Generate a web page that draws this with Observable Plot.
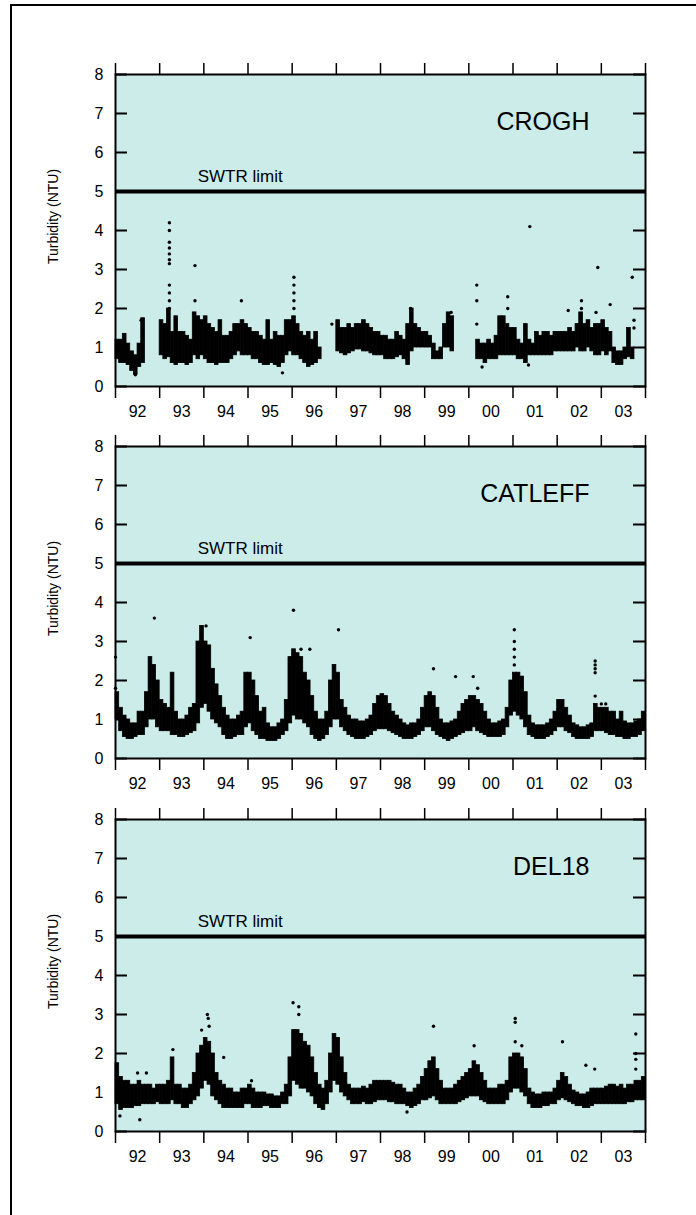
<!DOCTYPE html>
<html><head><meta charset="utf-8">
<script src="https://cdn.jsdelivr.net/npm/d3@7"></script>
<script src="https://cdn.jsdelivr.net/npm/@observablehq/plot@0.6"></script>
<style>
body{margin:0;background:#fff;}
#page{position:relative;width:696px;height:1215px;overflow:hidden;background:#fff;font-family:"Liberation Sans",Arial,sans-serif;}
#border{position:absolute;left:10px;top:4px;width:700px;height:1230px;border-left:2px solid #000;border-top:2px solid #000;}
.panel{position:absolute;left:0;}
</style></head><body><div id="page"><div id="border"></div></div>
<script>
// ---------- data ----------
const stations = ["CROGH", "CATLEFF", "DEL18"];
const yearLabels = ["92","93","94","95","96","97","98","99","00","01","02","03"];
const startYear = 1992;
const yTicks = [0,1,2,3,4,5,6,7,8];
const swtrLimit = 5;
const swtrLabel = "SWTR limit";
const yTitle = "Turbidity (NTU)";

// monthly lower / upper envelope of the daily readings, Jan 1992 .. Dec 2003 (null = no data)
const croghLow = [
 0.7,0.6,0.6,0.55,0.4,0.3,0.5,0.6,null,null,null,null,
 0.8,0.7,0.75,0.6,0.55,0.6,0.6,0.55,0.6,0.8,0.7,0.8,
 0.7,0.6,0.6,0.55,0.6,0.6,0.6,0.7,0.8,0.9,0.8,0.8,
 0.8,0.7,0.7,0.6,0.55,0.55,0.6,0.55,0.5,0.6,0.8,0.9,
 0.8,0.8,0.7,0.6,0.5,0.55,0.6,0.7,null,null,null,null,
 0.9,0.85,0.8,0.85,0.9,0.95,0.95,0.9,0.9,0.85,0.8,0.8,
 0.8,0.7,0.7,0.7,0.75,0.8,0.7,0.55,0.9,1.0,1.0,1.0,
 1.0,1.0,0.7,0.7,0.7,1.0,1.0,0.9,null,null,null,null,
 null,null,0.7,0.7,0.6,0.7,0.7,0.7,0.8,0.8,0.8,0.8,
 0.8,0.7,0.7,0.6,0.8,0.8,0.8,0.8,0.8,0.8,0.8,0.9,
 0.9,0.9,0.9,0.9,0.9,1.0,0.9,0.9,1.0,0.9,0.8,0.8,
 0.9,0.8,0.9,0.6,0.55,0.55,0.7,0.75,0.7,null,null,null
];
const croghHigh = [
 1.2,1.2,1.35,1.1,0.9,0.8,1.1,1.75,null,null,null,null,
 1.7,1.6,2.0,1.4,1.8,1.4,1.4,1.3,1.2,1.9,1.8,1.7,
 1.8,1.6,1.5,1.4,1.7,1.3,1.3,1.4,1.6,1.6,1.7,1.6,
 1.5,1.4,1.4,1.3,1.2,1.7,1.2,1.4,1.3,1.3,1.7,1.7,
 1.8,1.6,1.4,1.3,1.4,1.2,1.4,1.0,null,null,null,null,
 1.7,1.5,1.5,1.6,1.5,1.6,1.6,1.7,1.6,1.5,1.4,1.4,
 1.3,1.3,1.2,1.2,1.4,1.3,1.2,1.6,2.0,1.6,1.5,1.4,
 1.4,1.3,1.1,0.9,1.0,1.6,1.9,1.8,null,null,null,null,
 null,null,1.2,1.1,1.1,1.2,1.1,1.3,1.8,1.8,1.6,1.5,
 1.5,1.2,1.1,1.6,1.2,1.1,1.4,1.3,1.4,1.4,1.3,1.4,
 1.4,1.4,1.4,1.5,1.4,1.6,1.9,1.6,1.7,1.5,1.6,1.6,
 1.7,1.5,1.4,1.0,0.9,0.9,1.0,1.5,1.0,null,null,null
];
const croghSpikeYear = [1993.22,1993.22,1993.22,1993.22,1993.22,1993.22,1993.22,1993.22,1993.22,1993.22,1993.22,
 1993.8,1993.8,1994.85,1996.04,1996.04,1996.04,1996.04,1996.04,1996.9,2000.18,2000.18,2000.18,2000.88,2000.88,
 2001.38,2002.55,2002.55,2002.92,2002.88,2003.2,2003.7,2003.74,2003.74,1992.58,1998.68,1999.6,1995.78,1992.45,
 2001.35,2000.3,2002.25];
const croghSpikeValue = [2.0,2.2,2.4,2.6,3.15,3.25,3.4,3.55,3.7,4.0,4.2,
 3.1,2.2,2.2,2.0,2.2,2.4,2.6,2.8,1.6,2.6,2.2,1.6,2.3,2.0,
 4.1,2.2,2.0,3.05,1.9,2.1,2.8,1.7,1.5,1.7,2.0,1.9,0.35,0.3,
 0.55,0.5,1.95];

const catleffLow = [
 1.0,0.7,0.55,0.5,0.5,0.55,0.6,0.6,0.8,1.0,1.0,0.8,
 0.7,0.7,0.7,0.6,0.6,0.55,0.55,0.6,0.65,0.7,0.9,1.3,
 1.4,1.2,1.0,0.9,0.8,0.6,0.5,0.5,0.55,0.6,0.6,0.8,
 0.9,0.7,0.6,0.5,0.5,0.45,0.45,0.45,0.5,0.6,0.7,0.9,
 1.1,1.0,1.0,0.9,0.8,0.6,0.5,0.45,0.5,0.6,0.8,1.0,
 1.0,0.8,0.7,0.6,0.55,0.5,0.5,0.5,0.55,0.6,0.7,0.75,
 0.75,0.75,0.7,0.65,0.6,0.55,0.5,0.5,0.5,0.55,0.6,0.7,
 0.8,0.8,0.7,0.6,0.55,0.5,0.45,0.5,0.55,0.6,0.65,0.7,
 0.7,0.8,0.7,0.65,0.6,0.55,0.55,0.55,0.55,0.6,0.8,1.1,
 1.2,1.1,1.0,0.8,0.6,0.55,0.5,0.5,0.5,0.55,0.6,0.7,
 0.8,0.8,0.7,0.65,0.55,0.5,0.5,0.5,0.5,0.55,0.7,0.7,
 0.7,0.65,0.6,0.6,0.55,0.55,0.5,0.5,0.55,0.55,0.6,0.7
];
const catleffHigh = [
 1.7,1.3,1.1,1.0,0.9,0.9,1.2,1.2,1.7,2.6,2.4,2.0,
 1.5,1.4,1.3,2.2,1.2,1.0,1.0,1.1,1.3,1.4,3.0,3.4,
 3.0,2.9,2.3,1.9,1.6,1.3,1.1,1.0,1.0,1.1,1.2,2.2,
 2.2,2.0,1.6,1.2,1.3,0.9,0.8,0.8,0.9,1.0,1.5,2.6,
 2.8,2.7,2.6,2.2,2.0,1.6,1.2,1.0,1.0,1.2,2.0,2.4,
 2.2,1.5,1.3,1.1,1.0,1.0,0.95,0.95,1.0,1.1,1.4,1.6,
 1.65,1.6,1.4,1.2,1.1,1.0,0.9,0.85,0.9,0.9,1.0,1.3,
 1.6,1.7,1.6,1.3,1.0,0.9,0.9,0.95,1.0,1.2,1.4,1.5,
 1.6,1.6,1.5,1.4,1.2,1.0,0.9,0.9,0.95,1.0,1.3,2.0,
 2.2,2.2,2.1,1.7,1.1,0.9,0.85,0.85,0.85,0.9,1.0,1.2,
 1.5,1.5,1.3,1.1,0.9,0.85,0.8,0.8,0.85,0.9,1.4,1.3,
 1.3,1.3,1.2,1.2,1.0,1.2,0.95,0.9,0.9,0.95,1.0,1.2
];
const catleffSpikeYear = [1992.0,1992.0,1992.88,1994.05,1995.05,1996.03,1996.2,1996.4,1997.05,1999.2,1999.7,2000.1,2000.2,
 2001.03,2001.03,2001.03,2001.03,2001.03,2002.86,2002.86,2002.86,2002.86,2002.86,2003.0,2003.1];
const catleffSpikeValue = [2.6,1.8,3.6,3.4,3.1,3.8,2.8,2.8,3.3,2.3,2.1,2.1,1.8,
 3.3,3.0,2.8,2.6,2.4,2.5,2.4,2.3,2.2,1.6,1.4,1.4];

const del18Low = [
 0.7,0.55,0.6,0.6,0.6,0.65,0.65,0.7,0.7,0.7,0.7,0.75,
 0.7,0.7,0.7,0.8,0.7,0.7,0.6,0.6,0.7,0.8,0.9,1.1,
 1.3,1.2,0.9,0.8,0.7,0.6,0.6,0.6,0.6,0.6,0.6,0.7,
 0.7,0.6,0.6,0.6,0.65,0.65,0.6,0.6,0.6,0.7,0.7,0.9,
 1.3,1.2,1.1,1.1,1.0,0.9,0.7,0.6,0.55,0.7,1.0,1.3,
 1.2,1.0,0.9,0.8,0.7,0.7,0.7,0.75,0.7,0.7,0.75,0.8,
 0.8,0.8,0.75,0.75,0.7,0.7,0.7,0.65,0.6,0.65,0.7,0.8,
 0.8,0.85,0.9,0.8,0.7,0.7,0.7,0.7,0.7,0.75,0.8,0.85,
 0.9,0.9,0.9,0.8,0.75,0.7,0.7,0.7,0.7,0.7,0.8,1.0,
 1.1,1.1,1.0,0.9,0.7,0.6,0.6,0.6,0.65,0.65,0.7,0.7,
 0.8,0.85,0.8,0.75,0.7,0.65,0.65,0.6,0.6,0.65,0.7,0.7,
 0.7,0.7,0.7,0.7,0.7,0.7,0.7,0.75,0.75,0.8,0.8,0.8
];
const del18High = [
 1.75,1.4,1.3,1.3,1.2,1.2,1.3,1.2,1.2,1.2,1.1,1.2,
 1.2,1.2,1.3,1.9,1.2,1.2,1.1,1.1,1.2,1.5,2.0,2.2,
 2.4,2.3,2.0,1.5,1.3,1.2,1.1,1.1,1.0,1.0,1.1,1.1,
 1.2,1.1,1.0,1.0,1.0,0.95,0.95,0.9,0.9,1.0,1.2,1.9,
 2.6,2.6,2.5,2.3,2.2,1.9,1.5,1.2,1.1,1.3,2.0,2.5,
 2.4,1.9,1.5,1.2,1.1,1.1,1.1,1.15,1.1,1.2,1.3,1.3,
 1.3,1.3,1.3,1.25,1.2,1.2,1.1,1.0,1.0,1.1,1.2,1.4,
 1.6,1.8,1.9,1.6,1.3,1.1,1.1,1.1,1.2,1.3,1.4,1.5,
 1.6,1.8,1.7,1.5,1.3,1.1,1.1,1.1,1.2,1.2,1.3,1.9,
 2.0,2.0,1.9,1.6,1.1,1.0,0.95,0.95,1.0,1.0,1.0,1.1,
 1.3,1.5,1.4,1.2,1.05,1.0,0.95,0.95,1.0,1.1,1.1,1.1,
 1.1,1.15,1.2,1.2,1.15,1.2,1.1,1.2,1.2,1.3,1.3,1.4
];
const del18SpikeYear = [1992.1,1992.55,1992.5,1992.7,1993.3,1993.95,1994.08,1994.1,1994.12,1994.45,1995.08,1996.02,1996.15,1996.15,
 1999.2,2000.12,2001.05,2001.05,2001.05,2001.2,2002.12,2002.65,2002.85,2003.78,2003.78,2003.78,2003.78,1998.6];
const del18SpikeValue = [0.4,0.3,1.5,1.5,2.1,2.6,3.0,2.9,2.7,1.9,1.3,3.3,3.2,3.0,
 2.7,2.2,2.9,2.8,2.3,2.2,2.3,1.7,1.6,2.5,2.0,1.85,1.6,0.5];

// ---------- drawing ----------
const lows = [croghLow, catleffLow, del18Low];
const highs = [croghHigh, catleffHigh, del18High];
const spikeYears = [croghSpikeYear, catleffSpikeYear, del18SpikeYear];
const spikeValues = [croghSpikeValue, catleffSpikeValue, del18SpikeValue];

const frameTops = [74, 445.5, 819];
const W = 696, ML = 115, MR = 51, MT = 30, MB = 50, FH = 312;
const FW = W - ML - MR;
const TICK = 12;
const font = "'Liberation Sans', Arial, sans-serif";
const yearTicks = d3.range(startYear, startYear + yearLabels.length + 1);

stations.forEach((name, p) => {
  const rows = [];
  lows[p].forEach((lo, i) => {
    const hi = highs[p][i];
    if (lo == null || hi == null) return;
    const yr = startYear + Math.floor(i / 12), m = i % 12;
    rows.push({x1: yr + m / 12, x2: yr + (m + 1) / 12, y1: lo, y2: hi});
  });
  const spikes = spikeYears[p].map((x, i) => ({x, y: spikeValues[p][i]}));

  const chart = Plot.plot({
    width: W, height: MT + FH + MB,
    marginLeft: ML, marginRight: MR, marginTop: MT, marginBottom: MB,
    x: {domain: [startYear, startYear + yearLabels.length], axis: null, label: null},
    y: {domain: [0, 8], axis: null, label: null},
    style: {fontFamily: font, fontSize: "16px", color: "#000", background: "transparent", overflow: "visible"},
    marks: [
      Plot.frame({fill: "#cbece8", stroke: null}),
      Plot.rect(rows, {x1: "x1", x2: "x2", y1: "y1", y2: "y2", fill: "#000", stroke: "#000", strokeWidth: 0.8}),
      Plot.dot(spikes, {x: "x", y: "y", r: 1.7, fill: "#000", stroke: null}),
      Plot.ruleY([swtrLimit], {stroke: "#000", strokeWidth: 4}),
      Plot.text([swtrLabel], {x: 1993.86, y: swtrLimit, dy: -15, textAnchor: "start", fontSize: 17, fill: "#000"}),
      Plot.text([name], {frameAnchor: "top-right", dx: -56, dy: 47, textAnchor: "end", lineAnchor: "middle", fontSize: 25, fill: "#000"}),
      Plot.frame({stroke: "#000", strokeWidth: 2}),
      // inward ticks on the left and right edges
      Plot.ruleY(yTicks, {y: d => d, insetRight: FW - TICK, stroke: "#000", strokeWidth: 2}),
      Plot.ruleY(yTicks, {y: d => d, insetLeft: FW - TICK, stroke: "#000", strokeWidth: 2}),
      Plot.text(yTicks, {y: d => d, frameAnchor: "left", textAnchor: "end", dx: -12, fontSize: 16, fill: "#000"}),
      Plot.axisX(yearTicks, {anchor: "bottom", tickSize: 12, tickFormat: () => "", label: null, strokeWidth: 1.5}),
      Plot.axisX(yearTicks, {anchor: "top", tickSize: 12, tickFormat: () => "", label: null, strokeWidth: 1.5}),
      Plot.text(yearLabels, {x: (d, i) => startYear + i + 0.5, frameAnchor: "bottom", lineAnchor: "middle", dy: 25, fontSize: 16, fill: "#000"}),
      Plot.text([yTitle], {frameAnchor: "left", rotate: -90, textAnchor: "middle", dx: -62, dy: -14, fontSize: 14, fill: "#000"})
    ]
  });
  chart.classList.add("panel");
  chart.style.top = (frameTops[p] - MT) + "px";
  chart.style.position = "absolute";
  document.getElementById("page").appendChild(chart);
});
</script>
</body></html>
